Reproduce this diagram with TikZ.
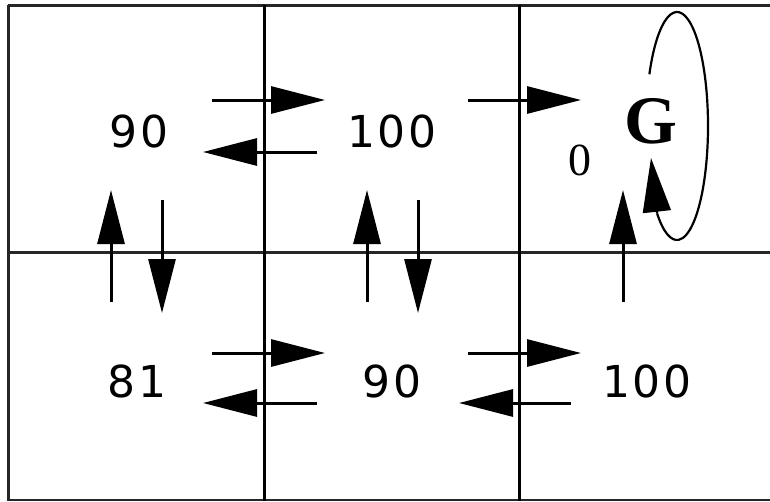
\documentclass[tikz,border=0pt]{standalone}
\usepackage{fontspec}
\newfontfamily\dv[LetterSpace=6]{DejaVu Sans}
\newfontfamily\ser{Liberation Serif}
\usetikzlibrary{arrows.meta,calc}
\begin{document}
\begin{tikzpicture}[x=1pt,y=-1pt,
  gridline/.style={line width=3pt,draw=black!85},
  act/.style={line width=3pt,-{Triangle[length=54pt,width=27pt]}},
  val/.style={anchor=base,inner sep=0pt,font=\dv\fontsize{44}{44}\selectfont},
  small/.style={anchor=base,inner sep=0pt,font=\ser\fontsize{46}{46}\selectfont},
  goal/.style={anchor=base,inner sep=0pt,font=\ser\bfseries\fontsize{68}{68}\selectfont}]
\useasboundingbox (0,0) rectangle (770,501);
% grid
\draw[gridline] (8,5) -- (770,5);
\draw[gridline] (8,252) -- (770,252);
\draw[gridline,line width=2pt] (8,500) -- (770,500);
\draw[gridline] (8,5) -- (8,501);
\draw[gridline,draw=black] (264,5) -- (264,501);
\draw[gridline,draw=black] (519,5) -- (519,501);
% labels
\node[val] (v11) at (139,147) {90};
\node[val] (v12) at (392,147) {100};
\node[small] (v13) at (580,175) {0};
\node[goal] (g) at (651,143) {G};
\node[val] (v21) at (137,397) {81};
\node[val] (v22) at (392,397) {90};
\node[val] (v23) at (647,397) {100};
% coordinates for arrows
\coordinate (a1s) at (212,100); \coordinate (a1e) at (325,100);
\coordinate (a2s) at (317,152); \coordinate (a2e) at (203,152);
\coordinate (a3s) at (468,100); \coordinate (a3e) at (581,100);
\coordinate (b1s) at (212,353); \coordinate (b1e) at (325,353);
\coordinate (b2s) at (317,403); \coordinate (b2e) at (203,403);
\coordinate (b3s) at (468,353); \coordinate (b3e) at (581,353);
\coordinate (b4s) at (571,403); \coordinate (b4e) at (459,403);
\coordinate (u1s) at (111,302); \coordinate (u1e) at (111,190);
\coordinate (d1s) at (162,200); \coordinate (d1e) at (162,313);
\coordinate (u2s) at (367,302); \coordinate (u2e) at (367,190);
\coordinate (d2s) at (418,200); \coordinate (d2e) at (418,313);
\coordinate (u3s) at (623,302); \coordinate (u3e) at (623,190);
\foreach \s/\e in {a1s/a1e,a2s/a2e,a3s/a3e,b1s/b1e,b2s/b2e,b3s/b3e,b4s/b4e,u1s/u1e,d1s/d1e,u2s/u2e,d2s/d2e,u3s/u3e}
  \draw[act] (\s) -- (\e);
% self loop at G
\coordinate (lc) at (677,126);
\draw[line width=2.2pt] ($(lc)+(207:31 and 114)$) arc[start angle=207,end angle=490,x radius=31,y radius=114] coordinate (le);
\coordinate (lt) at (651,158);
\draw[line width=2.2pt,-{Triangle[length=54pt,width=28pt]}] (le) -- (lt);
\end{tikzpicture}
\end{document}
